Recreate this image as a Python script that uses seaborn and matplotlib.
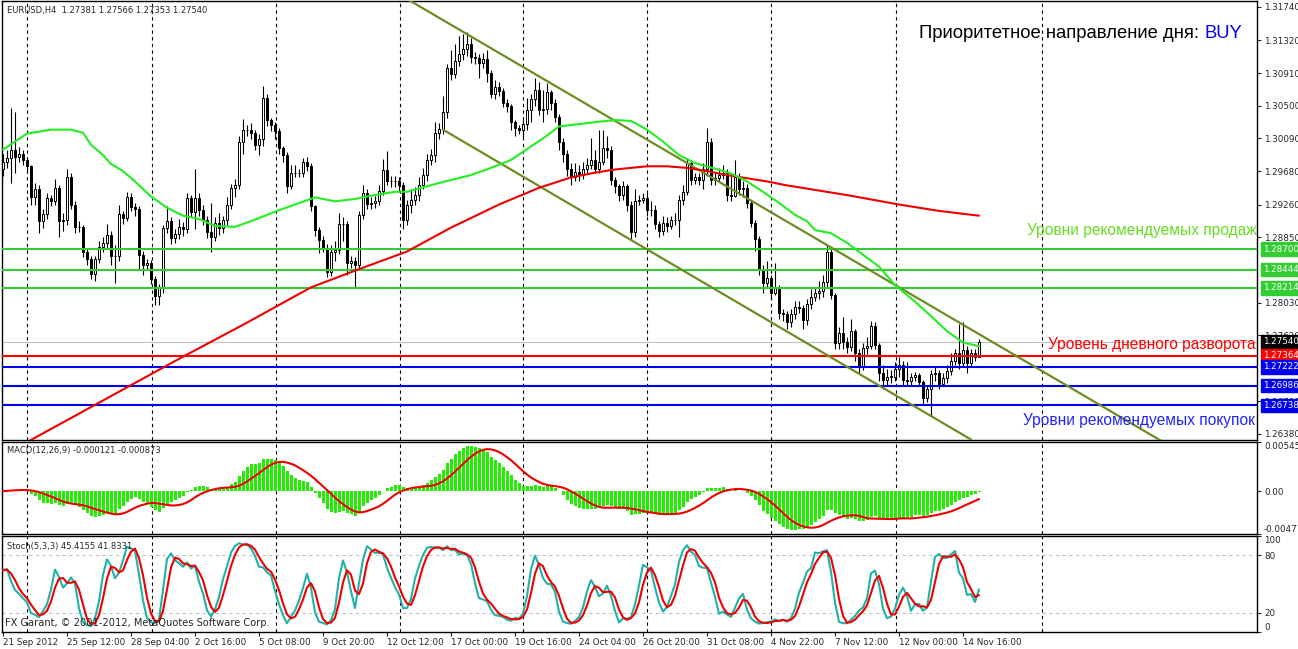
import numpy as np
import pandas as pd
import seaborn as sns
import matplotlib.pyplot as plt
from matplotlib.transforms import blended_transform_factory

# EURUSD H4 candles, 21 Sep - 14 Nov 2012
first_open = 1.2970
close = [
    1.2980, 1.2984, 1.2995, 1.2986, 1.2990, 1.2982, 1.2974, 1.2936, 1.2945, 1.2905,
    1.2914, 1.2934, 1.2930, 1.2947, 1.2905, 1.2907, 1.2960, 1.2926, 1.2898, 1.2898,
    1.2867, 1.2857, 1.2839, 1.2858, 1.2873, 1.2878, 1.2888, 1.2861, 1.2861, 1.2914,
    1.2909, 1.2935, 1.2923, 1.2920, 1.2863, 1.2850, 1.2852, 1.2832, 1.2811, 1.2821,
    1.2896, 1.2905, 1.2884, 1.2889, 1.2898, 1.2895, 1.2934, 1.2916, 1.2934, 1.2919,
    1.2907, 1.2891, 1.2885, 1.2903, 1.2897, 1.2907, 1.2926, 1.2947, 1.2950, 1.3005,
    1.3019, 1.3020, 1.3016, 1.3001, 1.3008, 1.3060, 1.3032, 1.3026, 1.3018, 1.2997,
    1.2988, 1.2949, 1.2966, 1.2965, 1.2965, 1.2979, 1.2974, 1.2924, 1.2894, 1.2882,
    1.2872, 1.2841, 1.2866, 1.2869, 1.2901, 1.2901, 1.2853, 1.2855, 1.2850, 1.2913,
    1.2941, 1.2927, 1.2928, 1.2931, 1.2943, 1.2969, 1.2955, 1.2955, 1.2956, 1.2950,
    1.2907, 1.2926, 1.2932, 1.2938, 1.2951, 1.2963, 1.2982, 1.2988, 1.3016, 1.3021,
    1.3042, 1.3097, 1.3090, 1.3106, 1.3115, 1.3121, 1.3127, 1.3111, 1.3110, 1.3104,
    1.3109, 1.3091, 1.3065, 1.3073, 1.3069, 1.3053, 1.3050, 1.3029, 1.3022, 1.3019,
    1.3027, 1.3045, 1.3058, 1.3070, 1.3045, 1.3046, 1.3067, 1.3054, 1.3036, 1.3005,
    1.2989, 1.2970, 1.2960, 1.2967, 1.2963, 1.2970, 1.2976, 1.2982, 1.2970, 1.2980,
    1.2997, 1.2994, 1.2957, 1.2949, 1.2938, 1.2949, 1.2926, 1.2892, 1.2931, 1.2932,
    1.2934, 1.2919, 1.2919, 1.2902, 1.2893, 1.2903, 1.2899, 1.2906, 1.2907, 1.2932,
    1.2942, 1.2978, 1.2957, 1.2960, 1.2957, 1.2970, 1.3004, 1.2957, 1.2959, 1.2963,
    1.2966, 1.2938, 1.2937, 1.2960, 1.2945, 1.2947, 1.2928, 1.2903, 1.2883, 1.2844,
    1.2827, 1.2834, 1.2815, 1.2821, 1.2790, 1.2788, 1.2779, 1.2788, 1.2797, 1.2796,
    1.2781, 1.2801, 1.2810, 1.2815, 1.2818, 1.2829, 1.2867, 1.2813, 1.2752, 1.2765,
    1.2754, 1.2747, 1.2767, 1.2740, 1.2723, 1.2746, 1.2748, 1.2773, 1.2750, 1.2714,
    1.2706, 1.2710, 1.2710, 1.2720, 1.2725, 1.2706, 1.2704, 1.2710, 1.2712, 1.2703,
    1.2683, 1.2694, 1.2713, 1.2714, 1.2701, 1.2708, 1.2717, 1.2729, 1.2739, 1.2727,
    1.2743, 1.2727, 1.2740, 1.2735, 1.2754,
]
high = [
    1.2990, 1.2995, 1.3047, 1.3042, 1.2998, 1.2994, 1.2985, 1.2976, 1.2953, 1.2950,
    1.2920, 1.2940, 1.2938, 1.2958, 1.2951, 1.2915, 1.2970, 1.2966, 1.2930, 1.2905,
    1.2900, 1.2872, 1.2862, 1.2862, 1.2880, 1.2885, 1.2902, 1.2893, 1.2875, 1.2925,
    1.2918, 1.2942, 1.2940, 1.2928, 1.2924, 1.2868, 1.2858, 1.2856, 1.2836, 1.2826,
    1.2900, 1.2924, 1.2910, 1.2895, 1.2908, 1.2904, 1.2940, 1.2938, 1.2970, 1.2940,
    1.2925, 1.2912, 1.2928, 1.2910, 1.2915, 1.2912, 1.2935, 1.2952, 1.2958, 1.3012,
    1.3033, 1.3026, 1.3028, 1.3020, 1.3015, 1.3075, 1.3065, 1.3035, 1.3030, 1.3022,
    1.3000, 1.2992, 1.2975, 1.2975, 1.2970, 1.2985, 1.2986, 1.2978, 1.2926, 1.2898,
    1.2886, 1.2876, 1.2875, 1.2880, 1.2915, 1.2910, 1.2905, 1.2862, 1.2860, 1.2918,
    1.2950, 1.2946, 1.2935, 1.2937, 1.2950, 1.2983, 1.2993, 1.2962, 1.2962, 1.2960,
    1.2954, 1.2932, 1.2945, 1.2948, 1.2960, 1.2972, 1.2990, 1.2996, 1.3030, 1.3028,
    1.3062, 1.3102, 1.3120, 1.3127, 1.3138, 1.3140, 1.3142, 1.3135, 1.3118, 1.3115,
    1.3116, 1.3120, 1.3095, 1.3082, 1.3080, 1.3072, 1.3058, 1.3052, 1.3032, 1.3026,
    1.3032, 1.3060, 1.3065, 1.3085, 1.3080, 1.3070, 1.3078, 1.3070, 1.3058, 1.3040,
    1.3010, 1.2995, 1.2978, 1.2978, 1.2975, 1.2980, 1.2985, 1.3010, 1.2995, 1.3020,
    1.3020, 1.3012, 1.2999, 1.2960, 1.2952, 1.2955, 1.2952, 1.2930, 1.2945, 1.2938,
    1.2940, 1.2940, 1.2930, 1.2925, 1.2905, 1.2912, 1.2910, 1.2912, 1.2915, 1.2938,
    1.2950, 1.2985, 1.2982, 1.2966, 1.2965, 1.2978, 1.3022, 1.3010, 1.2966, 1.2972,
    1.2975, 1.2970, 1.2962, 1.2982, 1.2965, 1.2955, 1.2952, 1.2932, 1.2906, 1.2886,
    1.2850, 1.2855, 1.2838, 1.2853, 1.2825, 1.2795, 1.2792, 1.2795, 1.2805, 1.2805,
    1.2800, 1.2808, 1.2820, 1.2822, 1.2830, 1.2838, 1.2876, 1.2872, 1.2815, 1.2772,
    1.2785, 1.2760, 1.2782, 1.2770, 1.2745, 1.2752, 1.2760, 1.2780, 1.2778, 1.2752,
    1.2725, 1.2720, 1.2718, 1.2728, 1.2735, 1.2730, 1.2728, 1.2715, 1.2716, 1.2715,
    1.2706, 1.2700, 1.2718, 1.2722, 1.2718, 1.2715, 1.2725, 1.2740, 1.2745, 1.2776,
    1.2778, 1.2748, 1.2745, 1.2745, 1.2757,
]
low = [
    1.2962, 1.2972, 1.2953, 1.2966, 1.2980, 1.2976, 1.2968, 1.2926, 1.2925, 1.2890,
    1.2896, 1.2908, 1.2924, 1.2925, 1.2885, 1.2893, 1.2900, 1.2920, 1.2890, 1.2892,
    1.2860, 1.2850, 1.2833, 1.2830, 1.2852, 1.2866, 1.2870, 1.2850, 1.2828, 1.2855,
    1.2902, 1.2905, 1.2918, 1.2912, 1.2845, 1.2838, 1.2845, 1.2826, 1.2800, 1.2800,
    1.2815, 1.2890, 1.2876, 1.2878, 1.2883, 1.2886, 1.2890, 1.2910, 1.2895, 1.2912,
    1.2900, 1.2884, 1.2866, 1.2880, 1.2888, 1.2890, 1.2900, 1.2920, 1.2935, 1.2945,
    1.2990, 1.3012, 1.3008, 1.2995, 1.2988, 1.3000, 1.3025, 1.3018, 1.3008, 1.2990,
    1.2980, 1.2940, 1.2945, 1.2960, 1.2960, 1.2960, 1.2968, 1.2918, 1.2886, 1.2865,
    1.2866, 1.2835, 1.2836, 1.2855, 1.2864, 1.2880, 1.2838, 1.2846, 1.2822, 1.2845,
    1.2908, 1.2920, 1.2920, 1.2922, 1.2925, 1.2938, 1.2950, 1.2948, 1.2948, 1.2942,
    1.2895, 1.2900, 1.2915, 1.2925, 1.2930, 1.2945, 1.2955, 1.2975, 1.2980, 1.3008,
    1.3015, 1.3035, 1.3082, 1.3085, 1.3100, 1.3108, 1.3112, 1.3104, 1.3102, 1.3085,
    1.3098, 1.3080, 1.3060, 1.3058, 1.3062, 1.3048, 1.3042, 1.3020, 1.3012, 1.3014,
    1.3010, 1.3020, 1.3030, 1.3050, 1.3038, 1.3030, 1.3040, 1.3045, 1.3030, 1.2995,
    1.2980, 1.2962, 1.2950, 1.2955, 1.2955, 1.2958, 1.2965, 1.2970, 1.2965, 1.2965,
    1.2975, 1.2985, 1.2950, 1.2940, 1.2930, 1.2932, 1.2918, 1.2882, 1.2885, 1.2925,
    1.2928, 1.2912, 1.2912, 1.2895, 1.2885, 1.2888, 1.2892, 1.2895, 1.2900, 1.2885,
    1.2926, 1.2938, 1.2950, 1.2952, 1.2950, 1.2945, 1.2962, 1.2950, 1.2950, 1.2955,
    1.2958, 1.2930, 1.2930, 1.2935, 1.2938, 1.2935, 1.2922, 1.2898, 1.2868, 1.2838,
    1.2815, 1.2822, 1.2808, 1.2812, 1.2782, 1.2780, 1.2770, 1.2772, 1.2782, 1.2790,
    1.2770, 1.2775, 1.2795, 1.2805, 1.2808, 1.2810, 1.2822, 1.2808, 1.2745, 1.2745,
    1.2745, 1.2740, 1.2742, 1.2730, 1.2715, 1.2718, 1.2738, 1.2745, 1.2745, 1.2705,
    1.2695, 1.2700, 1.2702, 1.2705, 1.2710, 1.2700, 1.2698, 1.2700, 1.2705, 1.2698,
    1.2675, 1.2678, 1.2660, 1.2705, 1.2695, 1.2698, 1.2702, 1.2712, 1.2725, 1.2720,
    1.2722, 1.2715, 1.2722, 1.2730, 1.2735,
]

# moving averages as drawn on the chart (sampled)
ma_fast_bar = [0, 3, 6, 12, 17, 20, 22, 25, 27, 30, 33, 37, 41, 45, 49, 53, 58, 63, 68, 73,
               78, 83, 88, 93, 98, 101, 109, 117, 122, 127, 132, 135, 139, 144, 149, 153, 157, 161, 165, 169,
               173, 178, 182, 186, 190, 194, 198, 201, 203, 207, 211, 215, 219, 223, 228, 232, 236, 240, 244]
ma_fast = [1.2995, 1.3005, 1.3015, 1.3020, 1.3020, 1.3016, 1.3001, 1.2988, 1.2977, 1.2968,
           1.2955, 1.2936, 1.2922, 1.2912, 1.2908, 1.2899, 1.2898, 1.2907, 1.2917, 1.2926,
           1.2935, 1.2930, 1.2933, 1.2938, 1.2942, 1.2942, 1.2953, 1.2963, 1.2972, 1.2982,
           1.2999, 1.3009, 1.3024, 1.3027, 1.3030, 1.3032, 1.3031, 1.3020, 1.3005, 1.2988,
           1.2978, 1.2971, 1.2965, 1.2955, 1.2942, 1.2928, 1.2913, 1.2905, 1.2894, 1.2890,
           1.2878, 1.2863, 1.2848, 1.2825, 1.2804, 1.2786, 1.2767, 1.2753, 1.2748]
ma_slow_bar = [5, 25, 45, 60, 77, 88, 101, 112, 124, 134, 142, 148, 153, 161, 166, 171, 176,
               181, 186, 191, 196, 201, 212, 224, 234, 244]
ma_slow = [1.2625, 1.2680, 1.2735, 1.2775, 1.2822, 1.2843, 1.2867, 1.2897, 1.2926, 1.2947,
           1.2960, 1.2966, 1.2970, 1.2974, 1.2974, 1.2972, 1.2968, 1.2963, 1.2959, 1.2955,
           1.2950, 1.2946, 1.2937, 1.2926, 1.2918, 1.2912]

# descending channel
channel_top_bar = [101, 290]
channel_top = [1.3184, 1.2628]
channel_low_bar = [110, 242]
channel_low = [1.3020, 1.2631]

sell_levels = [1.28700, 1.28444, 1.28214]
pivot_level = 1.27364
buy_levels = [1.27222, 1.26986, 1.26738]
last_price = 1.27540

price_ticks = [1.31740, 1.31320, 1.30910, 1.30500, 1.30090, 1.29680, 1.29260, 1.28850,
               1.28030, 1.27620, 1.26790, 1.26380]
date_labels = ["21 Sep 2012", "25 Sep 12:00", "28 Sep 04:00", "2 Oct 16:00", "5 Oct 08:00",
               "9 Oct 20:00", "12 Oct 12:00", "17 Oct 00:00", "19 Oct 16:00", "24 Oct 04:00",
               "26 Oct 20:00", "31 Oct 08:00", "4 Nov 22:00", "7 Nov 12:00", "12 Nov 00:00",
               "14 Nov 16:00"]
grid_bars = [6, 37.25, 68.25, 99.25, 130, 161, 192, 223.25, 259.75]

sns.set_style('white')
plt.rcParams['font.family'] = ['DejaVu Sans']

W, H = 1298, 649
fig = plt.figure(figsize=(W / 100, H / 100), dpi=100)


def panel(top, bottom):
    return fig.add_axes([2 / W, (H - bottom) / H, 1255 / W, (bottom - top) / H])


ax = panel(1, 440)
ax_macd = panel(442, 534)
ax_st = panel(536, 632)

df = pd.DataFrame({'bar': np.arange(len(close)), 'open': [first_open] + close[:-1],
                   'high': high, 'low': low, 'close': close})
up = df['close'] >= df['open']

# candles
ax.vlines(df['bar'], df['low'], df['high'], color='black', lw=0.8, zorder=2)
ax.bar(df['bar'], (df['close'] - df['open']).abs().clip(lower=0.00003),
       bottom=np.minimum(df['open'], df['close']), width=0.5,
       color=np.where(up, 'white', 'black'), edgecolor='black', linewidth=0.7, zorder=3)

for v in sell_levels:
    ax.axhline(v, color='#32cd32', lw=1.5, zorder=4)
ax.axhline(pivot_level, color='#ff0000', lw=1.5, zorder=4)
for v in buy_levels:
    ax.axhline(v, color='#0000ee', lw=1.5, zorder=4)
ax.axhline(last_price, color='#c0c0c0', lw=0.8, zorder=1)

ax.plot(channel_top_bar, channel_top, color='#6b8e23', lw=1.6, zorder=4)
ax.plot(channel_low_bar, channel_low, color='#6b8e23', lw=1.6, zorder=4)
sns.lineplot(x=ma_slow_bar, y=ma_slow, ax=ax, color='#ee0000', linewidth=1.5, zorder=5)
sns.lineplot(x=ma_fast_bar, y=ma_fast, ax=ax, color='#22ee22', linewidth=1.5, zorder=5)

# MACD(12,26,9)
ema12 = df['close'].ewm(span=12, adjust=False).mean()
ema26 = df['close'].ewm(span=26, adjust=False).mean()
macd = ema12 - ema26
signal = macd.rolling(9, min_periods=1).mean()
ax_macd.bar(df['bar'], macd, width=0.75, color='#22ee00', edgecolor='none', linewidth=0, zorder=2)
sns.lineplot(x=df['bar'], y=signal, ax=ax_macd, color='#ee0000', linewidth=1.5, zorder=3)

# Stochastic(5,3,3)
ll = df['low'].rolling(5, min_periods=1).min()
hh = df['high'].rolling(5, min_periods=1).max()
k = (df['close'] - ll).rolling(3, min_periods=1).sum() / (hh - ll).rolling(3, min_periods=1).sum() * 100
d = k.rolling(3, min_periods=1).mean()
for lv in (20, 80):
    ax_st.axhline(lv, color='#c0c0c0', lw=0.8, ls=(0, (3, 3)), zorder=1)
sns.lineplot(x=df['bar'], y=k, ax=ax_st, color='#20b2aa', linewidth=1.5, zorder=3)
sns.lineplot(x=df['bar'], y=d, ax=ax_st, color='#ee0000', linewidth=1.5, zorder=4)

for a in (ax, ax_macd, ax_st):
    a.set_xlim(-0.25, 313.5)
    a.set_xlabel('')
    a.set_ylabel('')
    for g in grid_bars:
        a.axvline(g, color='black', lw=0.8, ls=(0, (3, 3)), zorder=1)
    for s in a.spines.values():
        s.set_color('black')
        s.set_linewidth(1.0)
    a.yaxis.tick_right()
    a.tick_params(axis='y', labelsize=6.3, length=3, pad=2, width=0.8, direction='out')
    a.tick_params(axis='x', bottom=False, labelbottom=False)

ax.set_ylim(1.26304, 1.31815)
ax.set_yticks(price_ticks)
ax.set_yticklabels([f'{v:.5f}' for v in price_ticks])

ax_macd.set_ylim(-0.00477, 0.00545)
ax_macd.set_yticks([0.00545, 0.0, -0.00477])
ax_macd.set_yticklabels(['0.00545', '0.00', '-0.00477'])
lab = ax_macd.get_yticklabels()
lab[0].set_va('top')
lab[2].set_va('bottom')

ax_st.set_ylim(0, 100)
ax_st.set_yticks([100, 80, 20, 0])
ax_st.set_yticklabels(['100', '80', '20', '0'])
lab = ax_st.get_yticklabels()
lab[0].set_va('top')
lab[3].set_va('bottom')

ax_st.set_xticks(range(0, 16 * len(date_labels), 16))
ax_st.set_xticklabels(date_labels, ha='left')
ax_st.tick_params(axis='x', bottom=True, labelbottom=True, labelsize=6.3, length=3, pad=1, width=0.8)

# coloured price tags on the right scale
tr = blended_transform_factory(ax.transAxes, ax.transData)
tags = [(v, '#32cd32') for v in sell_levels] + [(last_price, 'black'), (pivot_level, '#ff0000')] + \
       [(v, '#0000ee') for v in buy_levels]
for v, c in tags:
    ax.text(1.0049, v, f'{v:.5f}', transform=tr, ha='left', va='center', fontsize=6.3,
            color='white', bbox=dict(boxstyle='square,pad=0.25', fc=c, ec=c),
            clip_on=False, zorder=10)

# captions
fig.text(7 / W, 1 - 10 / H, 'EURUSD,H4  1.27381 1.27566 1.27353 1.27540', fontsize=6, va='center')
fig.text(7 / W, 1 - 451 / H, 'MACD(12,26,9) -0.000121 -0.000873', fontsize=6, va='center')
fig.text(7 / W, 1 - 546 / H, 'Stoch(5,3,3) 45.4155 41.8331', fontsize=6, va='center')
fig.text(5 / W, 1 - 623 / H, 'FX Garant, © 2001-2012, MetaQuotes Software Corp.', fontsize=7.1, va='center')

fig.text(1199 / W, 1 - 33 / H, 'Приоритетное направление дня:', fontsize=13.3,
         family='Liberation Sans', ha='right', va='center', color='black')
fig.text(1205 / W, 1 - 33 / H, 'BUY', fontsize=13.3, family='Liberation Sans',
         ha='left', va='center', color='#0000ee')
fig.text(1257 / W, 1 - 231 / H, 'Уровни рекомендуемых продаж', fontsize=11.2,
         family='Liberation Sans', ha='right', va='center', color='#66dd22')
fig.text(1256 / W, 1 - 344 / H, 'Уровень дневного разворота', fontsize=11.2,
         family='Liberation Sans', ha='right', va='center', color='#ff0000')
fig.text(1255 / W, 1 - 420 / H, 'Уровни рекомендуемых покупок', fontsize=11.2,
         family='Liberation Sans', ha='right', va='center', color='#2222ff')

fig.savefig('out.png', dpi=100)
